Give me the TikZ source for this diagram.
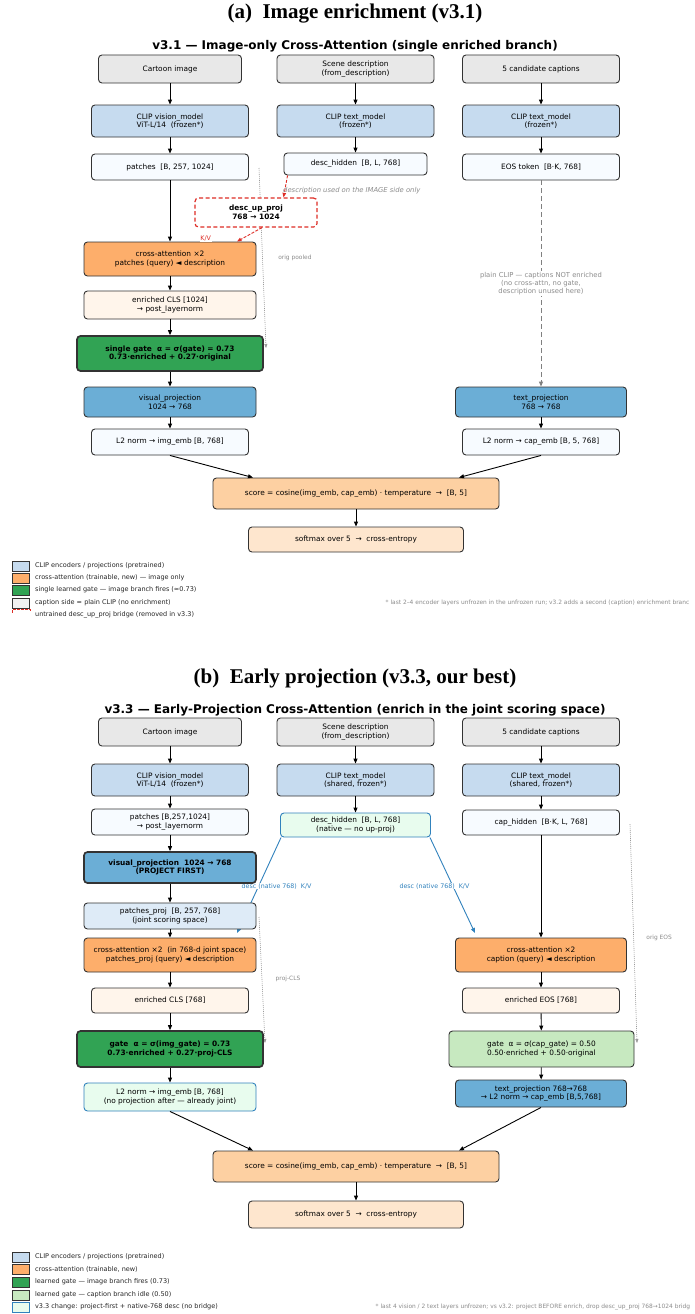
\documentclass[tikz,border=0pt]{standalone}
\usepackage{fontspec}
\setmainfont{DejaVu Sans}
\newfontfamily\titlefam{Liberation Serif}
\usetikzlibrary{arrows.meta,backgrounds,positioning}

\definecolor{inputgray}{HTML}{E8E8E8}
\definecolor{clipblue}{HTML}{C6DBEF}
\definecolor{featwhite}{HTML}{F7FBFF}
\definecolor{attorange}{HTML}{FDAE6B}
\definecolor{enrcream}{HTML}{FFF5EB}
\definecolor{gategreen}{HTML}{31A354}
\definecolor{gatelight}{HTML}{C7E9C0}
\definecolor{projblue}{HTML}{6BAED6}
\definecolor{pprojblue}{HTML}{DEEBF7}
\definecolor{scoreorange}{HTML}{FDD0A2}
\definecolor{softpeach}{HTML}{FEE6CE}
\definecolor{newmint}{HTML}{E8FCEE}
\definecolor{newblue}{HTML}{3182BD}
\definecolor{bridgered}{HTML}{DE2D26}
\definecolor{notegray}{HTML}{8C8C8C}

\newcommand\bxf{\fontsize{7.4}{8.6}\selectfont}
\newcommand\lgf{\fontsize{6.5}{7.5}\selectfont}
\newcommand\tnf{\fontsize{5.9}{7}\selectfont}
\newcommand\pcf{\fontsize{6.8}{7.8}\selectfont}

\begin{document}
\begin{tikzpicture}[x=1pt,y=-1pt,
    blk/.style={draw=black!80,line width=0.9pt,rounded corners=3.5pt,align=center,inner sep=1pt,font=\bxf},
    sz/.style 2 args={minimum width=#1pt,minimum height=#2pt},
    gatebox/.style={blk,fill=gategreen,line width=1.7pt,font=\bxf\bfseries},
    newbox/.style={blk,draw=newblue,fill=newmint},
    bridge/.style={blk,draw=bridgered,fill=white,line width=1.2pt,dash pattern=on 4pt off 2.5pt,font=\bxf\bfseries},
    arr/.style={-{Triangle[length=5pt,width=4pt]},line width=0.9pt,black},
    reddash/.style={-{Triangle[length=4.5pt,width=3.5pt]},line width=0.9pt,bridgered,dash pattern=on 3pt off 1.5pt},
    bluearr/.style={-{Triangle[length=5pt,width=4pt]},line width=0.9pt,newblue},
    grayarr/.style={-{Triangle[length=5pt,width=4pt]},line width=1pt,gray,dash pattern=on 5pt off 3pt},
    dotarr/.style={-{Triangle[length=4pt,width=3pt]},line width=0.6pt,gray!80,dash pattern=on 1pt off 1pt},
    titletxt/.style={font=\titlefam\bfseries\fontsize{21}{24}\selectfont,inner sep=0pt},
    subtxt/.style={font=\bfseries\fontsize{12}{14}\selectfont,inner sep=0pt},
    note/.style={font=\tnf,text=notegray,inner sep=0.5pt},
    keybox/.style={draw=black!80,line width=0.9pt,minimum width=17pt,minimum height=10pt,inner sep=0pt},
    keytxt/.style={font=\lgf,text=black!85,inner sep=0pt}]

    \useasboundingbox (0,0) rectangle (695,1314);
    \clip (0,0) rectangle (695,1314);

    % (a) image enrichment
    \node[titletxt] (ta) at (355,14) {(a)\ \ Image enrichment (v3.1)};
    \node[subtxt] (sa) at (355,46) {v3.1 — Image-only Cross-Attention (single enriched branch)};

    \node[blk,fill=inputgray,sz={143}{28}] (img) at (170,69) {Cartoon image};
    \node[blk,fill=inputgray,sz={157}{28}] (desc) at (355.5,69) {Scene description\\(from\_description)};
    \node[blk,fill=inputgray,sz={157}{28}] (caps) at (541,69) {5 candidate captions};
    \node[blk,fill=clipblue,sz={157}{32}] (vis) at (170,121) {CLIP vision\_model\\ViT-L/14\ \ (frozen*)};
    \node[blk,fill=clipblue,sz={157}{32}] (txt) at (355.5,121) {CLIP text\_model\\(frozen*)};
    \node[blk,fill=clipblue,sz={157}{32}] (txtc) at (541,121) {CLIP text\_model\\(frozen*)};
    \node[blk,fill=featwhite,sz={157}{26}] (patch) at (170,167) {patches\ \ [B, 257, 1024]};
    \node[blk,fill=featwhite,sz={143}{22}] (dhid) at (355.5,164) {desc\_hidden\ \ [B, L, 768]};
    \node[blk,fill=featwhite,sz={157}{26}] (eos) at (541,167) {EOS token\ \ [B·K, 768]};
    \node[bridge,sz={122}{29}] (upproj) at (256,212.5) {desc\_up\_proj\\768 → 1024};
    \node[blk,fill=attorange,sz={172}{34}] (xatt) at (170,259) {cross-attention ×2\\patches (query) ◄ description};
    \node[blk,fill=enrcream,sz={172}{28}] (ecls) at (170,305) {enriched CLS [1024]\\→ post\_layernorm};
    \node[gatebox,sz={186}{35}] (gate) at (170,353.5) {single gate\ \ α = σ(gate) = 0.73\\0.73·enriched + 0.27·original};
    \node[blk,fill=projblue,sz={172}{30}] (vproj) at (170,402) {visual\_projection\\1024 → 768};
    \node[blk,fill=featwhite,sz={157}{26}] (l2i) at (170,442) {L2 norm → img\_emb [B, 768]};
    \node[blk,fill=projblue,sz={171}{30}] (tproj) at (541,402) {text\_projection\\768 → 768};
    \node[blk,fill=featwhite,sz={157}{26}] (l2c) at (541,442) {L2 norm → cap\_emb [B, 5, 768]};
    \node[blk,fill=scoreorange,sz={286}{31}] (score) at (356,493.5) {score = cosine(img\_emb, cap\_emb) · temperature\ \ →\ \ [B, 5]};
    \node[blk,fill=softpeach,sz={215}{25}] (soft) at (356,539.5) {softmax over 5\ \ →\ \ cross-entropy};

    \coordinate (opa) at (259,168);
    \coordinate (opb) at (266,348);

    % Arrows
    \draw[arr] (img) -- (vis);
    \draw[arr] (desc) -- (txt);
    \draw[arr] (caps) -- (txtc);
    \draw[arr] (vis) -- (patch);
    \draw[arr] (txt) -- (dhid);
    \draw[arr] (txtc) -- (eos);
    \draw[arr] (patch) -- (xatt);
    \draw[arr] (xatt) -- (ecls);
    \draw[arr] (ecls) -- (gate);
    \draw[arr] (gate) -- (vproj);
    \draw[arr] (vproj) -- (l2i);
    \draw[arr] (tproj) -- (l2c);
    \draw[arr] (l2i.south) -- ([xshift=-103pt]score.north);
    \draw[arr] (l2c.south) -- ([xshift=103pt]score.north);
    \draw[arr] (score) -- (soft);
    \draw[reddash] ([xshift=4pt]dhid.south west) -- node[pos=0.68,anchor=west,xshift=-2pt,font=\pcf\itshape,text=notegray,inner sep=0pt] {description used on the IMAGE side only} ([xshift=27.5pt]upproj.north);
    \draw[reddash] ([xshift=6pt]upproj.south) -- node[pos=1,anchor=east,xshift=-25pt,yshift=3pt,note,text=bridgered,fill=white,font=\fontsize{6.3}{7}\selectfont] {K/V} ([xshift=67pt]xatt.north);
    \draw[grayarr] (eos) -- node[midway,fill=white,align=center,font=\pcf,text=notegray,inner sep=1pt] {plain CLIP — captions NOT enriched\\(no cross-attn, no gate,\\description unused here)} (tproj);
    \begin{scope}[on background layer]
        \fill[white] (0,0) rectangle (695,1314);
        \draw[dotarr] (opa) -- node[pos=0.5,anchor=west,xshift=15pt,note] {orig pooled} (opb);
    \end{scope}

    % legend (a)
    \node[keybox,fill=clipblue] (ka1) at (21,566) {};
    \node[keybox,fill=attorange] (ka2) at (21,578) {};
    \node[keybox,fill=gategreen] (ka3) at (21,590) {};
    \node[keybox,fill=inputgray!60] (ka4) at (21,603) {};
    \node[keybox,draw=none] (ka5) at (21,615) {};
    \draw[bridgered,line width=0.9pt,dash pattern=on 2.5pt off 1.5pt] ([yshift=-3pt]ka5.north west) |- (ka5.north east) -- ++(0,-3pt);
    \node[keytxt,right=5pt of ka1] (la1) {CLIP encoders / projections (pretrained)};
    \node[keytxt,right=5pt of ka2] (la2) {cross-attention (trainable, new) — image only};
    \node[keytxt,right=5pt of ka3] (la3) {single learned gate — image branch fires (≈0.73)};
    \node[keytxt,right=5pt of ka4] (la4) {caption side = plain CLIP (no enrichment)};
    \node[keytxt,right=5pt of ka5] (la5) {untrained desc\_up\_proj bridge (removed in v3.3)};
    \node[note,anchor=west] (fna) at (385,603) {* last 2–4 encoder layers unfrozen in the unfrozen run; v3.2 adds a second (caption) enrichment branc};

    % (b) early projection
    \node[titletxt] (tb) at (355,678) {(b)\ \ Early projection (v3.3, our best)};
    \node[subtxt] (sb) at (355,710) {v3.3 — Early-Projection Cross-Attention (enrich in the joint scoring space)};

    \node[blk,fill=inputgray,sz={143}{28}] (img2) at (170,732) {Cartoon image};
    \node[blk,fill=inputgray,sz={157}{28}] (desc2) at (355.5,732) {Scene description\\(from\_description)};
    \node[blk,fill=inputgray,sz={157}{28}] (caps2) at (541,732) {5 candidate captions};
    \node[blk,fill=clipblue,sz={157}{32}] (vis2) at (170,780) {CLIP vision\_model\\ViT-L/14\ \ (frozen*)};
    \node[blk,fill=clipblue,sz={157}{32}] (txt2) at (355.5,780) {CLIP text\_model\\(shared, frozen*)};
    \node[blk,fill=clipblue,sz={157}{32}] (txtc2) at (541,780) {CLIP text\_model\\(shared, frozen*)};
    \node[blk,fill=featwhite,sz={157}{26}] (patch2) at (170,822) {patches [B,257,1024]\\→ post\_layernorm};
    \node[newbox,sz={150}{24}] (dhid2) at (355.5,825) {desc\_hidden\ \ [B, L, 768]\\(native — no up-proj)};
    \node[blk,fill=featwhite,sz={157}{25}] (chid) at (541,822.5) {cap\_hidden\ \ [B·K, L, 768]};
    \node[gatebox,fill=projblue,sz={172}{31}] (vproj2) at (170,867.5) {visual\_projection\ \ 1024 → 768\\(PROJECT FIRST)};
    \node[blk,fill=pprojblue,sz={172}{26}] (pproj) at (170,916) {patches\_proj\ \ [B, 257, 768]\\(joint scoring space)};
    \node[blk,fill=attorange,sz={172}{34}] (xatt2) at (170,955) {cross-attention ×2\ \ (in 768-d joint space)\\patches\_proj (query) ◄ description};
    \node[blk,fill=attorange,sz={171}{34}] (xattc) at (541,955) {cross-attention ×2\\caption (query) ◄ description};
    \node[blk,fill=enrcream,sz={157}{25}] (ecls2) at (170,1000.5) {enriched CLS [768]};
    \node[blk,fill=enrcream,sz={157}{25}] (eeos) at (541,1000.5) {enriched EOS [768]};
    \node[gatebox,sz={186}{36}] (gate2) at (170,1049) {gate\ \ α = σ(img\_gate) = 0.73\\0.73·enriched + 0.27·proj-CLS};
    \node[blk,fill=gatelight,sz={185}{36}] (gatec) at (541.5,1049) {gate\ \ α = σ(cap\_gate) = 0.50\\0.50·enriched + 0.50·original};
    \node[newbox,sz={172}{28}] (l2i2) at (170,1097) {L2 norm → img\_emb [B, 768]\\(no projection after — already joint)};
    \node[blk,fill=projblue,sz={171}{27}] (tproj2) at (541,1093.5) {text\_projection 768→768\\→ L2 norm → cap\_emb [B,5,768]};
    \node[blk,fill=scoreorange,sz={286}{31}] (score2) at (356,1166.5) {score = cosine(img\_emb, cap\_emb) · temperature\ \ →\ \ [B, 5]};
    \node[blk,fill=softpeach,sz={215}{27}] (soft2) at (356,1214.5) {softmax over 5\ \ →\ \ cross-entropy};

    \coordinate (kvl) at (237,933);
    \coordinate (kvr) at (475,933);
    \coordinate (pca) at (259,917);
    \coordinate (pcb) at (265,1043);
    \coordinate (oea) at (630,824);
    \coordinate (oeb) at (637,1043);

    % Arrows
    \draw[arr] (img2) -- (vis2);
    \draw[arr] (desc2) -- (txt2);
    \draw[arr] (caps2) -- (txtc2);
    \draw[arr] (vis2) -- (patch2);
    \draw[arr] (txt2) -- (dhid2);
    \draw[arr] (txtc2) -- (chid);
    \draw[arr] (patch2) -- (vproj2);
    \draw[arr] (vproj2) -- (pproj);
    \draw[arr] (pproj) -- (xatt2);
    \draw[arr] (xatt2) -- (ecls2);
    \draw[arr] (ecls2) -- (gate2);
    \draw[arr] (gate2) -- (l2i2);
    \draw[arr] (chid) -- (xattc);
    \draw[arr] (xattc) -- (eeos);
    \draw[arr] (eeos) -- (gatec);
    \draw[arr] (gatec) -- (tproj2);
    \draw[arr] (l2i2.south) -- ([xshift=-103pt]score2.north);
    \draw[arr] (tproj2.south) -- ([xshift=103pt]score2.north);
    \draw[arr] (score2) -- (soft2);
    \begin{scope}[on background layer]
        \draw[bluearr] ([xshift=1pt]dhid2.south west) -- node[pos=0.51,xshift=18pt,note,text=newblue,fill=white,font=\fontsize{6.3}{7}\selectfont] {desc (native 768)\ \ K/V} (kvl);
        \draw[bluearr] ([xshift=-1pt]dhid2.south east) -- node[pos=0.51,xshift=-18.5pt,note,text=newblue,fill=white,font=\fontsize{6.3}{7}\selectfont] {desc (native 768)\ \ K/V} (kvr);
        \draw[dotarr] (pca) -- node[pos=0.49,anchor=west,xshift=13pt,note] {proj-CLS} (pcb);
        \draw[dotarr] (oea) -- node[pos=0.52,anchor=west,xshift=12pt,note] {orig EOS} (oeb);
    \end{scope}

    % legend (b)
    \node[keybox,fill=clipblue] (kb1) at (21,1257) {};
    \node[keybox,fill=attorange] (kb2) at (21,1269) {};
    \node[keybox,fill=gategreen] (kb3) at (21,1282) {};
    \node[keybox,fill=gatelight] (kb4) at (21,1295) {};
    \node[keybox,draw=newblue,fill=newmint] (kb5) at (21,1307) {};
    \node[keytxt,right=5pt of kb1] (lb1) {CLIP encoders / projections (pretrained)};
    \node[keytxt,right=5pt of kb2] (lb2) {cross-attention (trainable, new)};
    \node[keytxt,right=5pt of kb3] (lb3) {learned gate — image branch fires (0.73)};
    \node[keytxt,right=5pt of kb4] (lb4) {learned gate — caption branch idle (0.50)};
    \node[keytxt,right=5pt of kb5] (lb5) {v3.3 change: project-first + native-768 desc (no bridge)};
    \node[note,anchor=west] (fnb) at (375,1307) {* last 4 vision / 2 text layers unfrozen; vs v3.2: project BEFORE enrich, drop desc\_up\_proj 768→1024 bridg};
\end{tikzpicture}
\end{document}
